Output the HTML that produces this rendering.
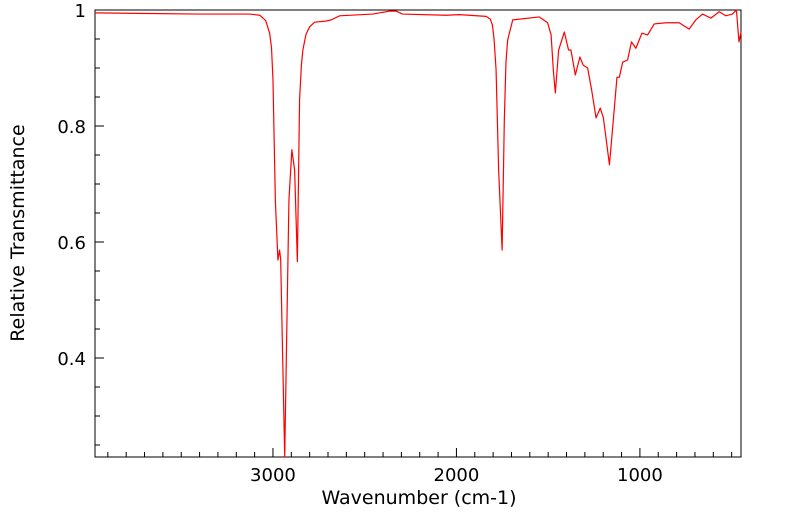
<!DOCTYPE html>
<html><head><meta charset="utf-8"><style>
html,body{margin:0;padding:0;background:#fff;}
svg{display:block;font-family:"DejaVu Sans","Liberation Sans",sans-serif;}
</style></head><body>
<svg id="chart" width="799" height="516" viewBox="0 0 799 516">
<g id="axes"></g>
<path id="spectrum" fill="none" stroke="#ff0000" stroke-width="1.2" stroke-linejoin="round"></path>
<text x="419" y="504" font-size="19" text-anchor="middle">Wavenumber (cm-1)</text>
<text transform="translate(24,233) rotate(-90)" font-size="19" text-anchor="middle">Relative Transmittance</text>
</svg>
<script>
const wavenumbers = [3970,3671,3399,3127,3072,3040,3018,3008,3000,2987,2973,2964,2958,2936,2913,2897,2882,2867,2855,2845,2837,2820,2800,2773,2709,2682,2637,2457,2365,2328,2294,2056,1984,1838,1815,1804,1795,1784,1770,1751,1739,1730,1721,1693,1548,1503,1484,1472,1461,1443,1412,1389,1376,1352,1327,1309,1285,1263,1239,1216,1199,1166,1145,1125,1112,1094,1067,1046,1022,989,958,922,858,786,732,695,659,613,568,532,496,474,460,449];
const transmittance = [0.995,0.994,0.993,0.993,0.991,0.982,0.960,0.935,0.880,0.672,0.569,0.586,0.570,0.229,0.672,0.759,0.724,0.566,0.845,0.905,0.931,0.958,0.971,0.979,0.981,0.983,0.990,0.993,0.998,0.998,0.993,0.991,0.992,0.989,0.984,0.974,0.950,0.897,0.724,0.586,0.810,0.910,0.948,0.983,0.988,0.978,0.957,0.897,0.857,0.931,0.962,0.931,0.931,0.888,0.919,0.905,0.900,0.862,0.814,0.831,0.814,0.733,0.810,0.884,0.884,0.910,0.914,0.945,0.934,0.960,0.957,0.976,0.978,0.978,0.967,0.983,0.993,0.986,0.997,0.990,0.993,1.0,0.945,0.962];
const xMajorTicks = [3000,2000,1000];
const yMajorTicks = [1,0.8,0.6,0.4];
const yTickLabels = ["1","0.8","0.6","0.4"];

const L=95,R=741,T=10,B=457;
const xMax=3970,xMin=449,yMax=1,yMin=0.2293;
function xs(w){return L+(xMax-w)/(xMax-xMin)*(R-L);}
function ys(v){return T+(yMax-v)/(yMax-yMin)*(B-T);}
const NS="http://www.w3.org/2000/svg";
const axes=document.getElementById('axes');
function add(tag,attrs,parent){const e=document.createElementNS(NS,tag);for(const k in attrs)e.setAttribute(k,attrs[k]);(parent||axes).appendChild(e);return e;}

const frame=add('rect',{x:L,y:T,width:R-L,height:B-T,fill:'none',stroke:'#000','stroke-width':1});



for(let w=500;w<=3900;w+=100){
  const x=xs(w);const major=w%1000===0;
  const t=add('line',{x1:x,x2:x,y1:B,y2:B-(major?9:5),stroke:'#000','stroke-width':1});
  
  
}
xMajorTicks.forEach(w=>{
  const t=add('text',{x:xs(w),y:481,'font-size':18,'text-anchor':'middle'});
  t.textContent=String(w);
  
  
});
for(let v=0.25;v<=1.001;v+=0.05){
  const y=ys(v);const major=Math.abs(v*10-Math.round(v*10))<0.01&&Math.round(v*10)%2===0;
  const t=add('line',{x1:L,x2:L+(major?9:5),y1:y,y2:y,stroke:'#000','stroke-width':1});
  
  
}
yMajorTicks.forEach((v,i)=>{
  const t=add('text',{x:L-9,y:ys(v)+7,'font-size':18,'text-anchor':'end'});
  t.textContent=yTickLabels[i];
  
  
});

let d='';
wavenumbers.forEach((w,i)=>{d+=(i?'L':'M')+xs(w).toFixed(2)+','+ys(transmittance[i]).toFixed(2);});
document.getElementById('spectrum').setAttribute('d',d);
</script>
</body></html>
